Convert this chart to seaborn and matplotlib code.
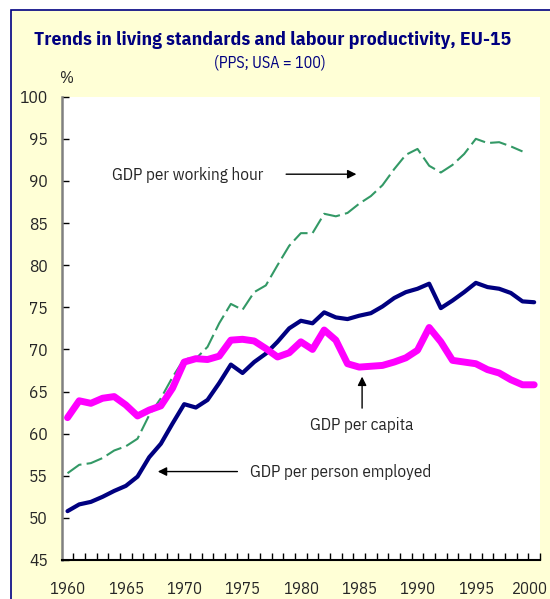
import pandas as pd
import numpy as np
import matplotlib
matplotlib.use('Agg')
import matplotlib.pyplot as plt
import matplotlib.transforms as mtransforms
from matplotlib.patches import Rectangle
import seaborn as sns

years = list(range(1960, 2001))

gdp_capita = [61.9, 63.9, 63.6, 64.2, 64.4, 63.4, 62.1, 62.8, 63.3, 65.4,
              68.5, 68.9, 68.8, 69.2, 71.1, 71.2, 71.0, 70.1, 69.1, 69.6,
              70.9, 70.0, 72.3, 71.1, 68.3, 67.9, 68.0, 68.1, 68.5, 69.0,
              69.9, 72.6, 70.9, 68.7, 68.5, 68.3, 67.6, 67.2, 66.4, 65.8,
              65.8]

gdp_employed = [50.8, 51.6, 51.9, 52.5, 53.2, 53.8, 54.9, 57.2, 58.8, 61.2,
                63.5, 63.1, 64.0, 66.0, 68.2, 67.2, 68.5, 69.5, 70.9, 72.5,
                73.4, 73.1, 74.4, 73.8, 73.6, 74.0, 74.3, 75.1, 76.1, 76.8,
                77.2, 77.8, 74.9, 75.8, 76.8, 77.9, 77.4, 77.2, 76.7, 75.7,
                75.6]

# no value for 2000
gdp_hour = [55.3, 56.3, 56.5, 57.1, 58.0, 58.5, 59.4, 62.2, 64.2, 66.7,
            68.9, 68.9, 70.3, 73.1, 75.4, 74.7, 76.8, 77.6, 80.0, 82.3,
            83.8, 83.8, 86.1, 85.8, 86.2, 87.3, 88.2, 89.5, 91.4, 93.1,
            93.8, 91.8, 91.0, 91.9, 93.2, 95.0, 94.5, 94.6, 94.1, 93.5,
            np.nan]

df = pd.DataFrame({'year': years, 'capita': gdp_capita,
                   'employed': gdp_employed, 'hour': gdp_hour})

sns.set_style('white')
plt.rcParams['font.family'] = ['IBM Plex Sans Condensed', 'DejaVu Sans']

navy = '#000080'
yellow = '#FFFFD6'

fig = plt.figure(figsize=(5.5, 5.99), dpi=100, facecolor='white')
fig.patches.append(Rectangle((11 / 550, -0.05), 1.1, 1 - 10 / 599 + 0.05,
                             transform=fig.transFigure, facecolor=yellow,
                             edgecolor=navy, linewidth=1.2, zorder=-10))

ax = fig.add_axes([61.7 / 550, 1 - 560 / 599, (540 - 61.7) / 550, (560 - 96.7) / 599])
ax.set_facecolor('white')

sns.lineplot(data=df, x='year', y='hour', ax=ax, color='#339966', linewidth=1.5)
ax.lines[-1].set_dashes([8, 2.5])
sns.lineplot(data=df, x='year', y='employed', ax=ax, color=navy, linewidth=3)
sns.lineplot(data=df, x='year', y='capita', ax=ax, color='#FF00FF', linewidth=5)

ax.set_xlim(1959.5, 2000.5)
ax.set_ylim(45, 100)
ax.set_xlabel('')
ax.set_ylabel('')

ax.set_yticks(range(45, 101, 5))
ax.set_xticks(range(1960, 2001, 5))
ax.set_xticks(np.arange(1960.5, 2001, 1), minor=True)
ax.tick_params(axis='y', direction='in', length=5, width=1, color='black',
               labelsize=12.5, pad=10, left=True)
ax.tick_params(axis='x', which='major', length=0, labelsize=12, pad=15, bottom=True)
ax.tick_params(axis='x', which='minor', direction='in', length=5, width=1,
               color='black', bottom=True)

# keep the last year label inside the picture
last = ax.get_xticklabels()[-1]
last.set_transform(last.get_transform() +
                   mtransforms.ScaledTranslation(-4 / 100, 0, fig.dpi_scale_trans))

for s in ['top', 'right']:
    ax.spines[s].set_visible(False)
ax.spines['left'].set_color('#808080')
ax.spines['left'].set_linewidth(1.8)
ax.spines['bottom'].set_color('black')
ax.spines['bottom'].set_linewidth(1.5)

fig.text(272 / 550, 1 - 40 / 599, 'Trends in living standards and labour productivity, EU-15',
         ha='center', va='center', fontsize=14, fontweight='bold', color=navy)
fig.text(270 / 550, 1 - 62 / 599, '(PPS; USA = 100)', ha='center', va='center',
         fontsize=11.5, color=navy)
fig.text(67 / 550, 1 - 78 / 599, '%', ha='center', va='center', fontsize=12)

ax.text(1963.8, 90.7, 'GDP per working hour', ha='left', va='center', fontsize=12.3)
ax.annotate('', xy=(1985.0, 90.8), xytext=(1978.5, 90.8),
            arrowprops=dict(arrowstyle='-|>', color='black', lw=1, mutation_scale=13))
ax.text(1985.2, 61.0, 'GDP per capita', ha='center', va='center', fontsize=12.3)
ax.annotate('', xy=(1985.25, 67.1), xytext=(1985.25, 62.7),
            arrowprops=dict(arrowstyle='-|>', color='black', lw=1, mutation_scale=13))
ax.text(1975.6, 55.4, 'GDP per person employed', ha='left', va='center', fontsize=12.3)
ax.annotate('', xy=(1967.5, 55.5), xytext=(1974.8, 55.5),
            arrowprops=dict(arrowstyle='-|>', color='black', lw=1, mutation_scale=13))

fig.savefig('out.png', dpi=100, facecolor=fig.get_facecolor())
